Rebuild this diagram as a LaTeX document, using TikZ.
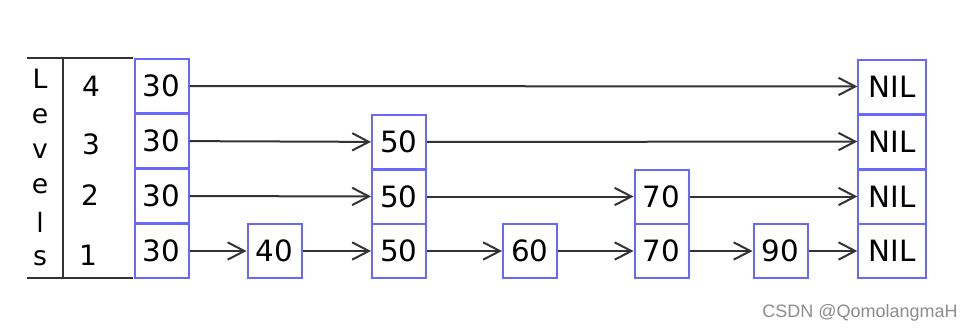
\documentclass[tikz,border=0pt]{standalone}
\usepackage{fontspec}
\setmainfont{DejaVu Sans}
\newfontfamily\wmfont{Liberation Sans}
\usetikzlibrary{arrows.meta}
\definecolor{boxblue}{RGB}{104,104,255}
\definecolor{linegray}{RGB}{51,51,51}
\begin{document}
\begin{tikzpicture}[x=0.75pt,y=-0.75pt,
  cell/.style={draw=boxblue,line width=1.5pt,fill=white,minimum width=40.5pt,minimum height=40.5pt,inner sep=0pt,font=\fontsize{22}{24}\selectfont},
  nilcell/.style={cell,minimum width=50.5pt},
  link/.style={draw=linegray,line width=1.5pt,-{Straight Barb[length=12.5pt,width=13pt,line width=1.5pt]}},
  frame/.style={draw=linegray,line width=1.5pt},
  lvl/.style={font=\fontsize{21}{23}\selectfont,inner sep=0pt},
  letter/.style={font=\fontsize{20}{22}\selectfont,inner sep=0pt}]
\useasboundingbox (0,0) rectangle (960,332);
% frame
\coordinate (tl) at (27,58.3);
\coordinate (tr) at (133,58.3);
\coordinate (bl) at (27,278.3);
\coordinate (br) at (133,278.3);
\coordinate (vt) at (63,58.3);
\coordinate (vb) at (63,278.3);
\draw[frame] (tl) -- (tr);
\draw[frame] (bl) -- (br);
\draw[frame] (vt) -- (vb);
% Levels letters
\node[letter] (L1) at (40,79) {L};
\node[letter] (L2) at (40,116) {e};
\node[letter] (L3) at (40,151) {v};
\node[letter] (L4) at (40,186) {e};
\node[letter] (L5) at (40,222) {l};
\node[letter] (L6) at (40,258) {s};
% level numbers
\node[lvl] (n4) at (91,86) {4};
\node[lvl] (n3) at (91,144) {3};
\node[lvl] (n2) at (90,195) {2};
\node[lvl] (n1) at (88,255) {1};
% head column
\node[cell] (h4) at (161.5,86) {30};
\node[cell] (h3) at (161.5,141) {30};
\node[cell] (h2) at (161.5,196) {30};
\node[cell] (h1) at (161.5,251) {30};
% nodes
\node[cell] (a1) at (274.5,251) {40};
\node[cell] (b3) at (399,142) {50};
\node[cell] (b2) at (399,196.5) {50};
\node[cell] (b1) at (399,251) {50};
\node[cell] (c1) at (530,251) {60};
\node[cell] (d2) at (661.5,196.5) {70};
\node[cell] (d1) at (661.5,251) {70};
\node[cell] (e1) at (780.5,251) {90};
% NIL column
\node[nilcell] (z4) at (892,86.5) {NIL};
\node[nilcell] (z3) at (892,141.5) {NIL};
\node[nilcell] (z2) at (892,196.5) {NIL};
\node[nilcell] (z1) at (892,251) {NIL};
% links
\draw[link] (h4) -- (z4);
\draw[link] (h3) -- (b3);
\draw[link] (b3) -- (z3);
\draw[link] (h2) -- (b2);
\draw[link] (b2) -- (d2);
\draw[link] (d2) -- (z2);
\draw[link] (h1) -- (a1);
\draw[link] (a1) -- (b1);
\draw[link] (b1) -- (c1);
\draw[link] (c1) -- (d1);
\draw[link] (d1) -- (e1);
\draw[link] (e1) -- (z1);
% watermark
\node[font=\wmfont\fontsize{13.5}{15}\selectfont,text=black!45,inner sep=0pt] (wm) at (860,313) {CSDN @QomolangmaH};
\end{tikzpicture}
\end{document}
